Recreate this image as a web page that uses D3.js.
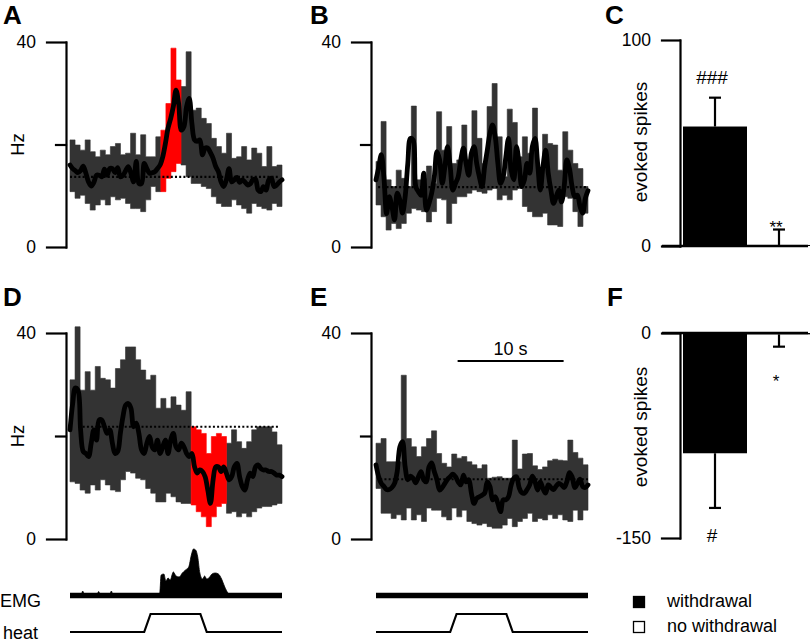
<!DOCTYPE html>
<html>
<head>
<meta charset="utf-8">
<title>Figure</title>
<script src="https://cdn.jsdelivr.net/npm/d3@7/dist/d3.min.js"></script>
<style>
html,body{margin:0;padding:0;background:#fff;}
svg{display:block;}
</style>
</head>
<body>
<svg id="fig" width="810" height="643" viewBox="0 0 810 643"></svg>
<script>
// ================= DATA =================
const timeDomain = [0, 20];        // s
const binCount = 42;
const binWidth = 20 / 42;          // s
const meanStep = 0.25;             // s between samples of the smoothed mean
const hzTicks = [0, 40];
const hzMinorTicks = [20];

// Panel A (withdrawal trials) – PSTH upper / lower bounds (Hz)
const upperA = [20.9,19.9,18.9,20.9,18.6,17.6,18.9,18.0,19.6,20.2,18.0,18.3,22.2,18.0,21.9,17.6,17.6,21.5,22.8,28.0,38.8,32.6,31.3,38.1,26.7,27.1,25.1,24.1,21.2,19.6,18.3,22.2,17.3,17.6,19.6,17.0,19.3,18.3,15.7,19.6,15.7,16.0];
const lowerA = [10.8,9.5,10.1,8.5,7.2,8.2,9.2,8.2,9.8,9.2,9.5,8.5,7.5,7.5,6.9,9.2,11.8,10.8,10.8,13.4,14.7,16.3,16.0,13.7,12.4,12.4,11.8,11.4,9.8,8.5,7.9,7.9,9.2,8.2,7.5,6.6,8.5,7.9,7.5,7.2,8.5,7.9];
const meanA = [16.0,15.3,14.9,14.5,14.9,15.8,14.4,12.7,11.9,12.6,
  14.0,14.0,13.7,15.2,14.0,15.3,15.3,14.5,15.5,13.7,
  14.0,14.9,15.7,14.4,12.7,16.7,12.4,12.4,16.3,15.3,
  14.4,14.5,14.7,15.3,16.0,17.6,20.2,23.2,25.1,27.4,
  30.6,28.0,22.8,23.5,27.4,29.0,24.1,20.9,20.6,20.9,
  18.0,19.3,19.3,18.4,17.3,15.7,14.7,12.7,11.8,13.1,
  15.3,12.7,13.1,13.6,12.6,13.1,12.7,12.1,12.3,13.1,
  13.2,11.1,10.8,11.8,11.1,13.1,13.4,11.8,12.1,12.7,
  13.1];
const redBinsA = [18,19,20,21];

// Panel B (no-withdrawal trials)
const upperB = [16.7,24.5,13.1,11.8,15.0,13.4,11.8,27.5,13.1,13.4,15.8,12.4,26.4,18.9,23.5,16.3,17.0,23.8,17.0,26.6,21.2,16.3,27.4,31.9,21.5,13.7,26.9,24.3,17.6,21.5,18.3,27.1,15.3,22.0,20.2,19.9,15.0,22.5,18.9,16.3,15.3,11.8];
const lowerB = [8.2,5.9,3.3,4.6,3.6,4.6,6.6,7.5,7.2,6.9,4.9,6.9,9.5,9.2,4.6,8.5,9.8,9.8,10.5,11.1,10.8,10.5,11.1,11.4,9.2,10.1,9.2,11.1,11.4,7.9,6.9,5.9,5.9,6.6,4.3,4.3,4.0,9.8,9.5,6.9,4.0,6.6];
const meanB = [13.1,15.5,18.0,13.5,6.5,9.8,7.9,5.3,10.5,9.2,
  6.6,9.8,16.3,21.2,20.9,11.8,10.8,10.1,14.4,7.2,
  8.5,10.5,13.7,18.6,17.0,12.4,15.7,19.6,15.7,11.1,
  12.4,13.7,17.0,19.3,16.3,14.0,18.3,19.6,16.3,13.7,
  11.8,15.7,18.9,22.2,23.8,21.5,16.3,12.4,13.7,17.6,
  21.2,15.0,13.1,19.6,16.3,11.8,13.1,16.3,14.4,19.6,
  21.2,16.3,11.1,15.7,18.9,14.4,11.1,8.5,9.8,11.1,
  8.8,11.8,17.0,15.3,11.8,9.8,10.1,7.9,6.6,9.5,
  11.0];
const redBinsB = [];

// Panel D (withdrawal trials, inhibited neuron)
const upperD = [30.9,41.2,28.9,32.5,28.9,33.5,31.2,30.9,29.3,33.1,34.8,37.3,37.3,34.8,32.8,30.9,31.8,25.4,27.3,25.4,27.6,26.0,25.0,28.6,21.8,21.2,20.5,16.6,19.9,20.5,19.9,18.6,21.2,18.9,17.6,18.9,21.2,21.8,21.8,21.8,20.8,18.3];
const lowerD = [11.1,10.8,9.5,8.9,10.5,9.5,11.5,10.5,9.5,9.2,11.5,13.1,12.8,11.8,11.5,9.8,8.9,7.2,7.2,8.9,8.2,7.2,6.9,6.9,6.6,5.3,4.3,2.4,4.3,6.3,6.9,5.0,5.3,4.3,5.0,4.3,5.3,6.0,6.3,6.3,6.6,6.9];
const meanD = [21.2,26.3,29.3,28.9,21.2,17.0,16.6,16.0,18.6,21.2,
  19.2,23.1,23.1,21.8,20.5,21.2,18.6,16.6,17.0,20.5,
  23.8,26.0,26.3,25.4,21.8,22.5,20.5,17.3,16.6,18.6,
  19.9,17.9,17.3,19.2,16.6,17.9,19.2,16.6,19.2,20.5,
  17.9,17.3,18.6,17.9,16.6,16.0,16.6,14.0,12.8,13.4,
  13.1,12.1,9.5,6.9,11.5,14.0,14.0,13.1,14.0,12.8,
  11.5,12.1,14.0,14.7,12.1,10.2,9.5,11.5,12.8,12.1,
  14.0,14.4,13.7,13.4,13.4,13.1,13.1,12.8,12.4,12.4,
  12.1];
const redBinsD = [24,25,26,27,28,29,30];

// Panel E (no-withdrawal trials, inhibited neuron)
const upperE = [18.6,19.5,15.0,15.0,15.0,31.8,19.5,17.9,16.0,17.9,19.5,21.0,16.6,14.7,14.0,16.5,15.7,16.0,15.0,14.4,13.7,14.4,11.8,12.0,12.1,11.8,11.8,19.2,13.6,16.5,16.6,14.2,13.5,14.0,15.2,15.5,15.3,15.2,19.2,16.8,15.7,14.4];
const lowerE = [9.8,5.0,5.0,4.0,4.7,3.7,6.0,3.7,4.7,3.4,6.0,5.6,5.6,4.3,3.7,6.0,4.3,5.6,3.4,3.0,2.7,3.0,2.4,2.1,2.1,2.7,4.0,2.4,3.4,4.0,5.0,3.4,4.0,3.7,4.7,4.0,4.7,3.7,3.4,5.6,3.7,5.6];
const meanE = [14.4,12.1,10.8,10.2,9.6,9.6,10.0,10.8,13.1,17.9,
  18.9,14.0,11.5,12.2,11.8,10.9,12.1,13.1,11.5,11.1,
  14.0,14.8,13.1,11.5,9.5,10.0,10.8,11.6,12.1,12.6,
  12.1,11.1,10.5,12.4,11.1,11.5,8.9,6.9,7.9,8.2,
  8.5,8.9,11.1,10.2,7.6,8.2,6.9,5.3,7.6,7.6,
  8.2,10.5,11.8,12.1,10.0,9.0,8.9,9.6,10.5,12.2,
  11.1,9.5,11.1,9.8,8.9,10.5,10.0,9.6,10.3,10.8,
  10.5,10.0,11.1,12.9,12.1,10.0,10.8,11.6,10.2,10.0,
  10.5];
const redBinsE = [];

// Pre-stimulus baseline (dotted): level (Hz) and time span (s) for A, B, D, E
const baselineHz = [13.7, 11.7, 21.8, 11.6];
const baselineSpan = [[0, 19.6], [0.2, 19.9], [1.2, 19.8], [0.4, 20]];

// EMG (arbitrary units) – withdrawal trial (D); no-withdrawal trial (E) is flat
const emgTimeD = [0,1.05,1.2,1.35,2.55,2.7,2.85,3.75,3.9,4.05,8.45,8.6,8.85,9.05,9.25,9.45,9.75,10.0,10.3,10.6,10.9,11.2,11.45,11.65,11.85,12.05,12.25,12.5,12.7,12.9,13.1,13.4,13.7,14.0,14.3,14.6,14.9,15.1,20];
const emgValD  = [0,0,4,0,0,3.5,0,0,4,0,0,20,21,14,17,15,23,19,18,22,25,28,40,46,45,38,22,16,19,16,17,21,22,21,16,8,2,0,0];
const emgTimeE = [0, 20];
const emgValE  = [0, 0];

// Heat stimulus (on/off)
const heatTime  = [0, 7.0, 7.6, 12.3, 12.9, 20];
const heatLevel = [0, 0, 1, 1, 0, 0];

// Time scale bar (s)
const scaleBarTime = [7.7, 17.7];
const scaleBarLabel = "10 s";

// Bar charts
const barGroups = ["withdrawal", "no withdrawal"];
const evokedC = [58, 0.5];
const semC = [14, 7.5];
const sigC = ["###", "**"];
const ticksC = [0, 100];
const evokedF = [-88, -1];
const semF = [40, 9];
const sigF = ["#", "*"];
const ticksF = [-150, 0];

// ================= DRAWING =================
const FONT = '"Liberation Sans", Arial, Helvetica, sans-serif';
const svg = d3.select("#fig");
svg.append("rect").attr("width", 810).attr("height", 643).attr("fill", "#fff");

function styleAxis(g, sw) {
  g.attr("font-size", null).attr("font-family", null);
  g.selectAll("path.domain").attr("stroke", "#000").attr("stroke-width", sw).attr("stroke-linecap", "square");
  g.selectAll(".tick line").attr("stroke", "#000").attr("stroke-width", sw).attr("stroke-linecap", "square");
  g.selectAll(".tick text").attr("font-size", 17.5).attr("font-family", FONT).attr("fill", "#000");
}
const plainFmt = d => String(d);

function tracePanel(o) {
  const x = d3.scaleLinear().domain(timeDomain).range([o.x0, o.x0 + 212]);
  const y = d3.scaleLinear().domain([0, 40]).range([o.yBottom, o.yTop]);
  const g = svg.append("g");

  // PSTH band, grouped into runs of equal colour
  const bins = o.upper.map((u, i) => ({ t0: i * binWidth, t1: (i + 1) * binWidth, hi: u, lo: o.lower[i], red: o.red.includes(i) }));
  const runs = [];
  let cur = null;
  bins.forEach(b => {
    if (!cur || cur.red !== b.red) { cur = { red: b.red, bins: [] }; runs.push(cur); }
    cur.bins.push(b);
  });
  const area = d3.area().curve(d3.curveStepAfter)
    .x(d => x(d.t)).y0(d => y(d.lo)).y1(d => y(d.hi));
  runs.sort((a, b) => (a.red === b.red ? 0 : a.red ? 1 : -1));
  runs.forEach(r => {
    const pts = r.bins.map(b => ({ t: b.t0, lo: b.lo, hi: b.hi }));
    const last = r.bins[r.bins.length - 1];
    pts.push({ t: last.t1, lo: last.lo, hi: last.hi });
    const col = r.red ? "#ff0000" : "#333333";
    g.append("path").attr("d", area(pts)).attr("fill", col)
      .attr("stroke", col).attr("stroke-width", 0.6);
  });

  // dotted baseline
  g.append("line")
    .attr("x1", x(o.baseSpan[0])).attr("x2", x(o.baseSpan[1]))
    .attr("y1", y(o.base)).attr("y2", y(o.base))
    .attr("stroke", "#000").attr("stroke-width", 2.2).attr("stroke-dasharray", "2,2.2");

  // smoothed mean
  const line = d3.line().curve(d3.curveCatmullRom.alpha(0.5))
    .x((d, k) => x(k * meanStep)).y(d => y(d));
  g.append("path").attr("d", line(o.mean)).attr("fill", "none")
    .attr("stroke", "#000").attr("stroke-width", 4.8)
    .attr("stroke-linejoin", "round").attr("stroke-linecap", "round");

  // axis
  const ax = svg.append("g").attr("transform", `translate(${o.axisX},0)`)
    .call(d3.axisLeft(y).tickValues(hzTicks).tickFormat(plainFmt).tickSize(19).tickPadding(11).tickSizeOuter(0));
  styleAxis(ax, 2.2);
  const ax2 = svg.append("g").attr("transform", `translate(${o.axisX},0)`)
    .call(d3.axisLeft(y).tickValues(hzMinorTicks).tickSize(10).tickFormat("").tickSizeOuter(0));
  ax2.select("path.domain").remove();
  styleAxis(ax2, 2.2);

  if (o.ylabel) {
    svg.append("text").attr("transform", `translate(24,${y(20)}) rotate(-90)`)
      .attr("text-anchor", "middle").attr("font-family", FONT).attr("font-size", 18.5)
      .text("Hz");
  }
  return x;
}

const xA = tracePanel({ x0: 70, axisX: 66, yTop: 42, yBottom: 247, upper: upperA, lower: lowerA, mean: meanA, red: redBinsA, base: baselineHz[0], baseSpan: baselineSpan[0], ylabel: true });
const xB = tracePanel({ x0: 376, axisX: 371, yTop: 42, yBottom: 247, upper: upperB, lower: lowerB, mean: meanB, red: redBinsB, base: baselineHz[1], baseSpan: baselineSpan[1], ylabel: false });
const xD = tracePanel({ x0: 70, axisX: 66, yTop: 333, yBottom: 539, upper: upperD, lower: lowerD, mean: meanD, red: redBinsD, base: baselineHz[2], baseSpan: baselineSpan[2], ylabel: true });
const xE = tracePanel({ x0: 376, axisX: 371, yTop: 333, yBottom: 539, upper: upperE, lower: lowerE, mean: meanE, red: redBinsE, base: baselineHz[3], baseSpan: baselineSpan[3], ylabel: false });

// Scale bar in E
svg.append("line").attr("x1", xE(scaleBarTime[0])).attr("x2", xE(scaleBarTime[1]))
  .attr("y1", 361).attr("y2", 361).attr("stroke", "#000").attr("stroke-width", 2.2);
svg.append("text").attr("x", (xE(scaleBarTime[0]) + xE(scaleBarTime[1])) / 2).attr("y", 355)
  .attr("text-anchor", "middle").attr("font-family", FONT).attr("font-size", 18).text(scaleBarLabel);

// EMG + heat traces
const emgY = d3.scaleLinear().domain([0, 50]).range([595, 545]);
const heatY = d3.scaleLinear().domain([0, 1]).range([632, 614]);
function emgTrace(x, times, vals) {
  const pts = times.map((t, i) => [t, vals[i]]);
  const ar = d3.area().curve(d3.curveMonotoneX).x(d => x(d[0])).y0(emgY(0)).y1(d => emgY(d[1]));
  svg.append("path").attr("d", ar(pts)).attr("fill", "#000").attr("stroke", "#000").attr("stroke-width", 0.8);
  svg.append("line").attr("x1", x(timeDomain[0])).attr("x2", x(timeDomain[1]))
    .attr("y1", 595.5).attr("y2", 595.5).attr("stroke", "#000").attr("stroke-width", 5.5);
}
function heatTrace(x) {
  const pts = heatTime.map((t, i) => [t, heatLevel[i]]);
  svg.append("path").attr("d", d3.line().x(d => x(d[0])).y(d => heatY(d[1]))(pts))
    .attr("fill", "none").attr("stroke", "#000").attr("stroke-width", 2.2).attr("stroke-linejoin", "miter");
}
emgTrace(xD, emgTimeD, emgValD);
emgTrace(xE, emgTimeE, emgValE);
heatTrace(xD);
heatTrace(xE);
svg.append("text").attr("x", 41).attr("y", 607).attr("text-anchor", "end")
  .attr("font-family", FONT).attr("font-size", 18).text("EMG");
svg.append("text").attr("x", 38).attr("y", 639).attr("text-anchor", "end")
  .attr("font-family", FONT).attr("font-size", 18).text("heat");

// Bar panels
function barPanel(o) {
  const y = d3.scaleLinear().domain(o.domain).range(o.range);
  const x = d3.scaleBand().domain(barGroups).range([683, 811]).padding(0);
  const g = svg.append("g");
  o.values.forEach((v, i) => {
    const gx = x(barGroups[i]);
    const cx = gx + x.bandwidth() / 2;
    g.append("rect").attr("x", gx).attr("width", x.bandwidth())
      .attr("y", Math.min(y(v), y(0))).attr("height", Math.max(1, Math.abs(y(v) - y(0))))
      .attr("fill", "#000");
    const e = v >= 0 ? v + o.sem[i] : v - o.sem[i];
    g.append("line").attr("x1", cx).attr("x2", cx).attr("y1", y(v)).attr("y2", y(e))
      .attr("stroke", "#000").attr("stroke-width", 2.2);
    g.append("line").attr("x1", cx - 6).attr("x2", cx + 6).attr("y1", y(e)).attr("y2", y(e))
      .attr("stroke", "#000").attr("stroke-width", 2.2);
    const lab = o.sig[i];
    const isStar = lab.indexOf("*") >= 0;
    let ly;
    if (v >= 0) ly = isStar ? y(e) + 3.5 : y(e) - 14;
    else ly = isStar ? y(e) + 40 : y(e) + 34;
    g.append("text").attr("x", cx - 3).attr("y", ly).attr("text-anchor", "middle")
      .attr("font-family", FONT).attr("font-size", isStar ? 17 : 19).attr("fill", "#000").text(lab);
  });
  // zero line
  g.append("line").attr("x1", 662).attr("x2", 808).attr("y1", y(0)).attr("y2", y(0))
    .attr("stroke", "#000").attr("stroke-width", 2.4);
  const ax = svg.append("g").attr("transform", "translate(680,0)")
    .call(d3.axisLeft(y).tickValues(o.ticks).tickFormat(plainFmt).tickSize(18).tickPadding(11).tickSizeOuter(0));
  styleAxis(ax, 2.2);
  svg.append("text").attr("transform", `translate(647,${o.labelY}) rotate(-90)`)
    .attr("text-anchor", "middle").attr("font-family", FONT).attr("font-size", 19)
    .text("evoked spikes");
}
barPanel({ domain: [0, 100], range: [246, 40], values: evokedC, sem: semC, sig: sigC, ticks: ticksC, labelY: 142 });
barPanel({ domain: [-150, 0], range: [538, 333], values: evokedF, sem: semF, sig: sigF, ticks: ticksF, labelY: 427 });

// Legend
const legend = svg.append("g");
barGroups.forEach((name, i) => {
  const yy = 596 + i * 25;
  legend.append("rect").attr("x", 633.5).attr("y", yy + 0.5).attr("width", 11).attr("height", 11)
    .attr("fill", i === 0 ? "#000" : "#fff").attr("stroke", "#000").attr("stroke-width", 1.3);
  legend.append("text").attr("x", 667).attr("y", yy + 11).attr("font-family", FONT)
    .attr("font-size", 18).text(name);
});

// Panel letters
const letters = [["A", 3, 24], ["B", 310, 24], ["C", 605, 24], ["D", 3, 306], ["E", 310, 306], ["F", 607, 306]];
letters.forEach(([t, lx, ly]) => {
  svg.append("text").attr("x", lx).attr("y", ly).attr("font-family", FONT)
    .attr("font-size", 26).attr("font-weight", "bold").text(t);
});
</script>
</body>
</html>
